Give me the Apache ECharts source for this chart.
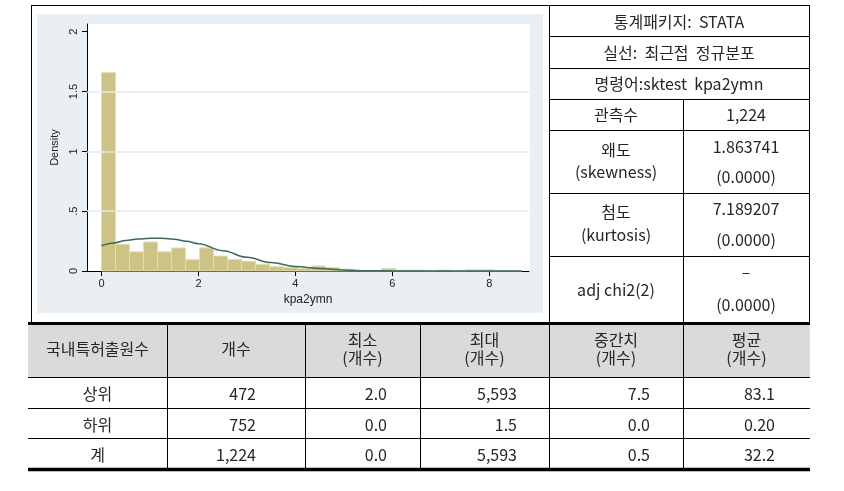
<!DOCTYPE html>
<html>
<head>
<meta charset="utf-8">
<script src="https://cdn.jsdelivr.net/npm/echarts@6/dist/echarts.min.js"></script>
<style>
html,body{margin:0;padding:0;background:#fff;}
#chart{width:844px;height:491px;}
</style>
</head>
<body>
<div id="chart"></div>
<script>
// ---------- data ----------
const binStarts = [0, 0.289, 0.578, 0.867, 1.156, 1.445, 1.734, 2.023, 2.312, 2.601,
  2.890, 3.179, 3.468, 3.757, 4.046, 4.335, 4.624, 4.913, 5.202, 5.491,
  5.780, 6.069, 6.358, 6.647, 6.936, 7.225, 7.514, 7.803, 8.092, 8.381];
const binWidth = 0.289;
const binHeights = [1.657, 0.223, 0.160, 0.242, 0.160, 0.192, 0.095, 0.193, 0.125, 0.095,
  0.082, 0.056, 0.036, 0.030, 0.022, 0.042, 0.028, 0.014, 0.004, 0.004,
  0.020, 0.008, 0.008, 0.003, 0.008, 0.003, 0.010, 0.010, 0.005, 0.005];
const curveX = [0, 0.25, 0.5, 0.75, 1.0, 1.25, 1.5, 1.75, 2.0, 2.5, 3.0, 3.5, 4.0, 4.5, 5.0, 5.5, 6.0, 7.0, 8.0, 8.67];
const curveY = [0.211, 0.235, 0.255, 0.268, 0.273, 0.273, 0.265, 0.248, 0.228, 0.170, 0.115, 0.070, 0.038, 0.020, 0.008, 0.002, 0.0005, 0, 0, 0];
const xTicks = [0, 2, 4, 6, 8];
const yTicks = [0, 0.5, 1, 1.5, 2];
const yTickLabels = ['0', '.5', '1', '1.5', '2'];
const gridValues = [0.5, 1, 1.5];
const xTitle = 'kpa2ymn';
const yTitle = 'Density';

const infoTitleRows = ['통계패키지:  STATA', '실선:  최근접  정규분포', '명령어:sktest  kpa2ymn'];
const infoLabels = [['관측수'], ['왜도', '(skewness)'], ['첨도', '(kurtosis)'], ['adj chi2(2)']];
const infoValues = [['1,224'], ['1.863741', '(0.0000)'], ['7.189207', '(0.0000)'], ['–', '(0.0000)']];

const statsHeader = [['국내특허출원수'], ['개수'], ['최소', '(개수)'], ['최대', '(개수)'], ['중간치', '(개수)'], ['평균', '(개수)']];
const statsRowLabels = ['상위', '하위', '계'];
const statsCount = ['472', '752', '1,224'];
const statsMin = ['2.0', '0.0', '0.0'];
const statsMax = ['5,593', '1.5', '5,593'];
const statsMedian = ['7.5', '0.0', '0.5'];
const statsMean = ['83.1', '0.20', '32.2'];

// ---------- layout ----------
const FONT = '"Noto Sans CJK KR", "Noto Sans", sans-serif';
const TXT = '#262626';
const els = [];
function line(x1, y1, x2, y2, w, c) {
  els.push({type: 'line', z: 20, silent: true, shape: {x1, y1, x2, y2}, style: {stroke: c || '#000', lineWidth: w || 1}});
}
function text(t, x, y, align) {
  els.push({type: 'text', z: 21, silent: true, x, y,
    style: {text: t, fill: TXT, font: '16px ' + FONT, align: align || 'center', verticalAlign: 'middle',
      textAlign: align || 'center', textVerticalAlign: 'middle'}});
}
// backgrounds
els.push({type: 'rect', z: -10, silent: true, shape: {x: 37, y: 14, width: 506, height: 299}, style: {fill: '#e9eff3'}});
els.push({type: 'rect', z: -9, silent: true, shape: {x: 87, y: 24, width: 443, height: 247}, style: {fill: '#ffffff'}});
els.push({type: 'rect', z: -9, silent: true, shape: {x: 28, y: 325, width: 782, height: 52}, style: {fill: '#dadada'}});

// top region borders
line(31, 5.5, 809.5, 5.5);
line(31.5, 5, 31.5, 322);
line(549.5, 5, 549.5, 322);
line(809.5, 5, 809.5, 322);
line(683.5, 99, 683.5, 322);
[36.5, 68.5, 99.5, 130.5, 193.5, 256.5].forEach(y => line(549, y, 810, y));
// right table text
const titleYs = [21.5, 53, 83.5];
infoTitleRows.forEach((t, i) => text(t, 679, titleYs[i]));
const labYs = [[115], [150, 172], [211.5, 235], [290]];
const valYs = [[115], [146.5, 177], [208.5, 240], [272, 305]];
infoLabels.forEach((arr, i) => arr.forEach((t, j) => text(t, 616, labYs[i][j])));
infoValues.forEach((arr, i) => arr.forEach((t, j) => text(t, 746, valYs[i][j])));

// bottom table
line(28, 323.5, 810, 323.5, 3.2);
line(28, 469.5, 810, 469.5, 3.5);
[377.5, 408.5, 438.5].forEach(y => line(28, y, 810, y));
[167.5, 305.5, 420.5, 549.5, 683.5].forEach(x => line(x, 325, x, 468));
const colCenters = [97.5, 236, 362.5, 484.5, 616, 746.5];
statsHeader.forEach((arr, i) => {
  if (arr.length === 1) text(arr[0], colCenters[i], 348.5);
  else { text(arr[0], colCenters[i], 340); text(arr[1], colCenters[i], 358); }
});
const rowYs = [394, 424.5, 455];
const rightAnchors = [256, 387, 517, 650, 775];
const cols = [statsCount, statsMin, statsMax, statsMedian, statsMean];
statsRowLabels.forEach((t, r) => {
  text(t, colCenters[0], rowYs[r]);
  cols.forEach((c, k) => text(c[r], rightAnchors[k], rowYs[r], 'right'));
});

// ---------- chart ----------
const chart = echarts.init(document.getElementById('chart'), null, {renderer: 'canvas'});
const AXFONT = '"Liberation Sans", Arial, sans-serif';
chart.setOption({
  animation: false,
  backgroundColor: '#ffffff',
  grid: {left: 87, right: 315, top: 24, bottom: 220, show: false},
  xAxis: {
    type: 'value', min: -0.3, max: 8.82,
    axisLine: {show: true, onZero: false, lineStyle: {color: '#000', width: 1}},
    axisTick: {show: true, length: 5, customValues: xTicks, lineStyle: {color: '#000'}},
    axisLabel: {show: true, customValues: xTicks, margin: 7, color: '#222', fontSize: 11, fontFamily: AXFONT},
    splitLine: {show: false},
    name: xTitle, nameLocation: 'middle', nameGap: 18,
    nameTextStyle: {color: '#222', fontSize: 12, fontFamily: AXFONT}
  },
  yAxis: {
    type: 'value', min: 0, max: 2.064,
    axisLine: {show: true, onZero: false, lineStyle: {color: '#000', width: 1}},
    axisTick: {show: true, length: 5, customValues: yTicks, lineStyle: {color: '#000'}},
    axisLabel: {show: true, customValues: yTicks, rotate: 90, margin: 8, color: '#222', fontSize: 11, fontFamily: AXFONT,
      formatter: v => { const i = yTicks.indexOf(v); return i >= 0 ? yTickLabels[i] : ''; }},
    splitLine: {show: false},
    name: yTitle, nameLocation: 'middle', nameGap: 19, nameRotate: 90,
    nameTextStyle: {color: '#222', fontSize: 11, fontFamily: AXFONT}
  },
  graphic: {elements: els},
  series: [
    {
      type: 'line', data: [], z: 1, silent: true,
      markLine: {silent: true, symbol: ['none', 'none'], label: {show: false},
        lineStyle: {color: '#e3e8eb', width: 1.5, type: 'solid'},
        data: gridValues.map(v => ({yAxis: v}))}
    },
    {
      type: 'custom', z: 2, silent: true,
      encode: {x: [0, 1], y: 2},
      data: binStarts.map((s, i) => [s, s + binWidth, binHeights[i]]),
      renderItem: (params, api) => {
        const p0 = api.coord([api.value(0), api.value(2)]);
        const p1 = api.coord([api.value(1), 0]);
        return {type: 'rect', shape: {x: p0[0], y: p0[1], width: p1[0] - p0[0], height: p1[1] - p0[1]},
          style: {fill: '#cdc384', stroke: '#e2ddb3', lineWidth: 1}};
      }
    },
    {
      type: 'line', z: 3, silent: true, showSymbol: false, smooth: 0.4, smoothMonotone: 'x',
      lineStyle: {color: '#3b6a5c', width: 1.5},
      data: curveX.map((x, i) => [x, curveY[i]])
    }
  ]
});
</script>
</body>
</html>
